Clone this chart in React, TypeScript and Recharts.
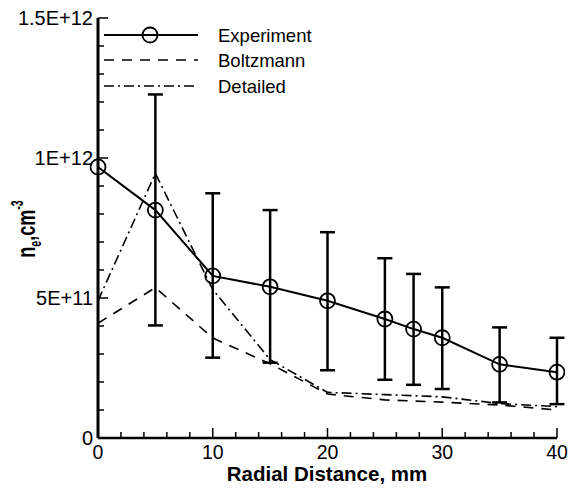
import React from 'react'
import { ComposedChart, Line, XAxis, YAxis, ErrorBar, Legend } from 'recharts'

// Experiment (with error bars)
const expX = [0, 5, 10, 15, 20, 25, 27.5, 30, 35, 40]
const expY = [9.68e11, 8.14e11, 5.79e11, 5.4e11, 4.9e11, 4.25e11, 3.89e11, 3.58e11, 2.63e11, 2.35e11]
const expHigh = [null, 1.227e12, 8.74e11, 8.14e11, 7.35e11, 6.42e11, 5.86e11, 5.38e11, 3.95e11, 3.58e11]
const expLow = [null, 4.02e11, 2.87e11, 2.69e11, 2.42e11, 2.08e11, 1.9e11, 1.75e11, 1.27e11, 1.21e11]

// Models
const modelX = [0, 5, 10, 15, 20, 25, 30, 35, 40]
const boltzmann = [4.1e11, 5.37e11, 3.57e11, 2.65e11, 1.57e11, 1.36e11, 1.28e11, 1.18e11, 1.0e11]
const detailed = [4.9e11, 9.45e11, 5.3e11, 2.8e11, 1.63e11, 1.55e11, 1.47e11, 1.23e11, 1.12e11]

const xTicks = [0, 2, 4, 6, 8, 10, 12, 14, 16, 18, 20, 22, 24, 26, 28, 30, 32, 34, 36, 38, 40]
const xLabels: Record<number, string> = { 0: '0', 10: '10', 20: '20', 30: '30', 40: '40' }
const yTicks = [0, 1e11, 2e11, 3e11, 4e11, 5e11, 6e11, 7e11, 8e11, 9e11, 1e12, 1.1e12, 1.2e12, 1.3e12, 1.4e12, 1.5e12]
const yLabels: Record<number, string> = { 0: '0', 5e11: '5E+11', 1e12: '1E+12', 1.5e12: '1.5E+12' }

const FONT = '"Liberation Sans", Arial, sans-serif'

const expData = expX.map((x, i) => ({
    x,
    y: expY[i],
    err: expHigh[i] == null ? null : [expY[i] - (expLow[i] as number), (expHigh[i] as number) - expY[i]],
}))
const boltzData = modelX.map((x, i) => ({ x, y: boltzmann[i] }))
const detailedData = modelX.map((x, i) => ({ x, y: detailed[i] }))

// ticks point inward, only the decades carry a label
const XTick = ({ x, y, payload }: any) => {
    const label = xLabels[payload.value]
    return (
        <g>
            <line x1={x} y1={y} x2={x} y2={y - (label ? 10 : 6)} stroke="#000" strokeWidth={1.5} />
            {label && (
                <text x={x} y={y + 21} textAnchor="middle" fontSize={19.5} fontFamily={FONT} fill="#000">
                    {label}
                </text>
            )}
        </g>
    )
}

const YTick = ({ x, y, payload }: any) => {
    const label = yLabels[payload.value]
    return (
        <g>
            <line x1={x} y1={y} x2={x + (label ? 10 : 6)} y2={y} stroke="#000" strokeWidth={1.5} />
            {label && (
                <text x={x - 5} y={y + 7} textAnchor="end" fontSize={20} fontFamily={FONT} fill="#000">
                    {label}
                </text>
            )}
        </g>
    )
}

const renderLegend = () => (
    <svg width={240} height={80} style={{ display: 'block' }}>
        <line x1={4} y1={13} x2={98} y2={13} stroke="#000" strokeWidth={2} />
        <circle cx={50} cy={13} r={7.5} fill="none" stroke="#000" strokeWidth={1.8} />
        <line x1={4} y1={38} x2={98} y2={38} stroke="#000" strokeWidth={1.6} strokeDasharray="10 8" />
        <line x1={4} y1={64} x2={98} y2={64} stroke="#000" strokeWidth={1.6} strokeDasharray="10 4 2 4" />
        {['Experiment', 'Boltzmann', 'Detailed'].map((t, i) => (
            <text key={t} x={118} y={[13, 38, 64][i] + 6.5} fontSize={18.5} fontFamily={FONT} fill="#000">
                {t}
            </text>
        ))}
    </svg>
)

export default function App() {
    return (
        <div style={{ position: 'absolute', left: 0, top: 0, background: '#fff' }}>
            <ComposedChart width={573} height={494} margin={{ top: 18, right: 16, left: 0, bottom: 0 }}>
                <XAxis
                    type="number"
                    dataKey="x"
                    domain={[0, 40]}
                    allowDataOverflow
                    ticks={xTicks}
                    interval={0}
                    height={56}
                    tickSize={0}
                    tickMargin={0}
                    tick={<XTick />}
                    axisLine={{ stroke: '#000', strokeWidth: 2.5 }}
                    label={{
                        content: () => (
                            <text x={327} y={481} textAnchor="middle" fontSize={20.5} fontWeight="bold" fontFamily={FONT} fill="#000">
                                Radial Distance, mm
                            </text>
                        ),
                    }}
                />
                <YAxis
                    type="number"
                    dataKey="y"
                    domain={[0, 1.5e12]}
                    ticks={yTicks}
                    interval={0}
                    width={98}
                    tickSize={0}
                    tickMargin={0}
                    tick={<YTick />}
                    axisLine={{ stroke: '#000', strokeWidth: 3 }}
                    label={{
                        content: () => (
                            <text
                                transform="translate(35,229) rotate(-90) scale(0.82,1.2)"
                                textAnchor="middle"
                                fontSize={22}
                                fontWeight="bold"
                                fontFamily={FONT}
                                fill="#000"
                            >
                                n<tspan fontSize={13} dy={5}>e</tspan>
                                <tspan dy={-5}>,cm</tspan>
                                <tspan fontSize={13} dy={-10}>-3</tspan>
                            </text>
                        ),
                    }}
                />
                <Legend
                    layout="vertical"
                    align="center"
                    verticalAlign="middle"
                    content={renderLegend}
                    wrapperStyle={{ position: 'absolute', left: 100, top: 22, width: 240, height: 80 }}
                />
                <Line
                    data={boltzData}
                    dataKey="y"
                    stroke="#000"
                    strokeWidth={1.6}
                    strokeDasharray="10 8"
                    dot={false}
                    isAnimationActive={false}
                />
                <Line
                    data={detailedData}
                    dataKey="y"
                    stroke="#000"
                    strokeWidth={1.6}
                    strokeDasharray="10 4 2 4"
                    dot={false}
                    isAnimationActive={false}
                />
                <Line
                    data={expData}
                    dataKey="y"
                    stroke="#000"
                    strokeWidth={2}
                    dot={{ r: 7.5, fill: 'none', stroke: '#000', strokeWidth: 1.8, clipDot: false }}
                    isAnimationActive={false}
                >
                    <ErrorBar dataKey="err" direction="y" width={7.5} stroke="#000" strokeWidth={2.5} isAnimationActive={false} />
                </Line>
            </ComposedChart>
        </div>
    )
}
